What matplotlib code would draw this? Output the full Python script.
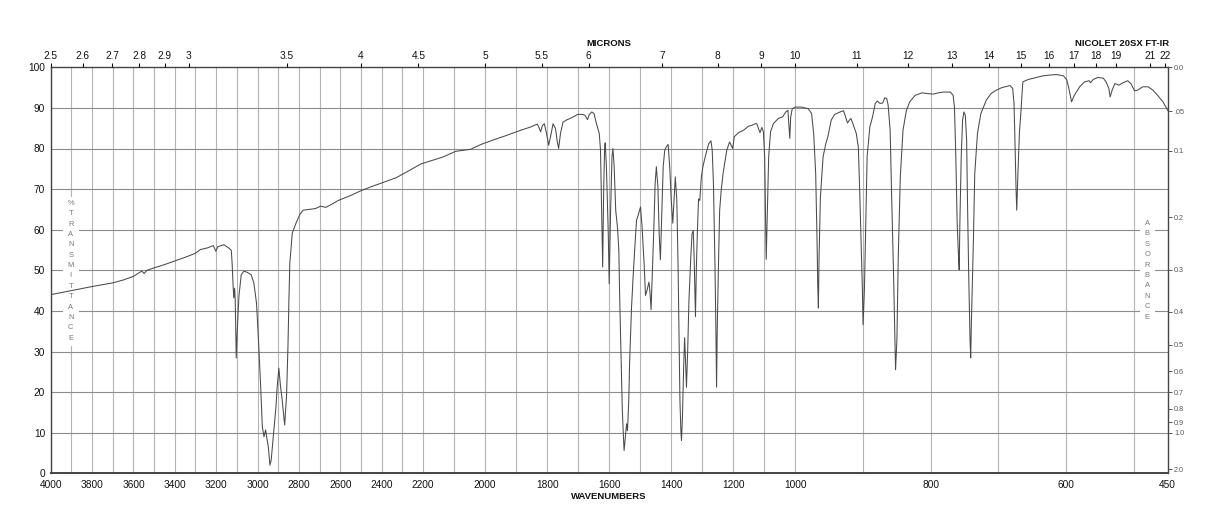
import numpy as np
import matplotlib
matplotlib.use("Agg")
import matplotlib.pyplot as plt
from matplotlib.patches import Rectangle

plt.rcParams['font.family'] = ['Liberation Sans', 'DejaVu Sans']

# ---------------- data ----------------
wavenumber = [
    4000, 3900, 3800, 3700, 3650, 3600, 3560, 3548, 3535, 3500, 3450, 3400, 3350, 3300,
    3277, 3243, 3214, 3202, 3192, 3163, 3139, 3127, 3123, 3118, 3115, 3111, 3108, 3103,
    3098, 3090, 3079, 3066, 3050, 3031, 3018, 3005, 2994, 2985, 2977, 2969, 2961, 2956,
    2948, 2940, 2934, 2924, 2911, 2905, 2897, 2889, 2881, 2869, 2860, 2853, 2848, 2844,
    2832, 2815, 2795, 2780, 2750, 2720, 2695, 2670, 2640, 2610, 2560, 2500, 2450, 2400,
    2330, 2280, 2210, 2136, 2095, 2047, 2013, 1970, 1928, 1885, 1853, 1832, 1827, 1821,
    1815, 1809, 1802, 1795, 1787, 1781, 1773, 1768, 1763, 1757, 1749, 1738, 1726, 1713,
    1702, 1688, 1678, 1670, 1664, 1656, 1649, 1641, 1632, 1628, 1625, 1621, 1618, 1615,
    1613, 1609, 1603, 1600, 1596, 1591, 1588, 1584, 1579, 1573, 1569, 1566, 1561, 1558,
    1555, 1552, 1547, 1544, 1541, 1537, 1534, 1528, 1523, 1518, 1512, 1507, 1499, 1494,
    1487, 1483, 1478, 1472, 1469, 1465, 1461, 1456, 1452, 1448, 1443, 1439, 1435, 1431,
    1426, 1421, 1416, 1410, 1405, 1400, 1395, 1391, 1387, 1382, 1378, 1375, 1372, 1369,
    1367, 1364, 1360, 1357, 1354, 1351, 1347, 1343, 1337, 1333, 1329, 1326, 1322, 1319,
    1316, 1312, 1308, 1303, 1298, 1292, 1285, 1279, 1272, 1268, 1264, 1259, 1256, 1254,
    1252, 1248, 1244, 1239, 1233, 1228, 1221, 1212, 1202, 1197, 1183, 1167, 1151, 1140,
    1130, 1124, 1119, 1114, 1108, 1103, 1099, 1096, 1094, 1090, 1086, 1080, 1071, 1055,
    1041, 1031, 1024, 1021, 1018, 1015, 1010, 1000, 991, 981, 976, 973, 970, 968,
    967, 966, 965, 963, 959, 955, 952, 947, 942, 934, 929, 927, 923, 921,
    918, 915, 910, 907, 905, 903, 901, 900, 898, 896, 894, 890, 886, 882,
    879, 875, 871, 868, 865, 863, 860, 858, 855, 853, 852, 850, 848, 845,
    841, 836, 831, 823, 813, 803, 796, 789, 781, 771, 767, 765, 763, 761,
    759, 758, 757, 755, 753, 751, 749, 747, 746, 744, 742, 741, 740, 737,
    735, 731, 726, 718, 711, 704, 695, 683, 679, 677, 676, 674, 673, 671,
    669, 667, 664, 656, 644, 634, 624, 614, 604, 599, 596, 592, 588, 580,
    573, 566, 564, 560, 553, 545, 541, 537, 535, 532, 528, 522, 516, 509,
    504, 499, 494, 487, 479, 472, 465, 457, 450,
]
transmittance = [
    44.0, 45.0, 46.0, 46.9, 47.6, 48.5, 49.8, 49.2, 50.0, 50.6, 51.4, 52.3, 53.2, 54.2,
    55.1, 55.5, 56.1, 54.7, 55.8, 56.3, 55.5, 54.9, 51.8, 46.0, 43.2, 45.6, 42.8, 28.4,
    35.3, 43.6, 48.9, 49.8, 49.5, 48.9, 46.9, 41.9, 31.2, 21.4, 11.5, 9.0, 10.7, 9.0,
    6.5, 2.0, 3.3, 9.0, 16.4, 21.4, 25.9, 21.4, 18.1, 11.9, 18.9, 31.2, 43.6, 51.8,
    59.2, 61.5, 63.8, 64.8, 65.0, 65.2, 65.8, 65.5, 66.3, 67.2, 68.2, 69.6, 70.6, 71.5,
    72.8, 74.2, 76.2, 77.9, 79.3, 79.8, 81.0, 82.2, 83.3, 84.5, 85.3, 86.0, 85.3, 84.1,
    85.7, 86.1, 83.7, 80.8, 83.7, 86.1, 84.9, 82.0, 80.0, 83.7, 86.5, 87.0, 87.4, 87.9,
    88.4, 88.4, 88.2, 87.1, 88.4, 89.0, 88.6, 86.1, 83.7, 79.6, 67.2, 50.8, 68.9, 79.6,
    81.4, 75.5, 59.0, 46.7, 63.1, 77.9, 80.0, 75.5, 64.8, 60.3, 54.9, 42.6, 26.2, 16.3,
    10.5, 5.6, 9.7, 12.2, 10.5, 17.9, 27.8, 40.9, 48.3, 54.9, 62.3, 63.5, 65.6, 60.7,
    50.8, 43.8, 45.1, 47.1, 45.1, 40.3, 49.2, 60.7, 71.3, 75.5, 70.5, 59.0, 52.6, 63.1,
    75.5, 79.6, 80.4, 81.0, 75.5, 67.2, 61.6, 67.2, 73.0, 67.2, 50.8, 34.4, 17.9, 10.5,
    8.1, 13.8, 26.2, 33.4, 27.8, 21.2, 30.3, 42.6, 53.3, 59.0, 59.8, 52.4, 38.6, 50.8,
    59.0, 67.6, 67.2, 73.0, 75.5, 77.5, 79.6, 81.2, 81.9, 79.6, 71.3, 50.8, 34.4, 21.2,
    34.4, 50.8, 64.8, 69.7, 73.8, 76.3, 79.6, 81.6, 80.0, 82.9, 83.9, 84.5, 85.5, 85.7,
    86.1, 86.1, 84.9, 83.9, 85.2, 84.1, 78.0, 63.2, 52.7, 65.7, 78.0, 84.1, 86.1, 87.4,
    87.8, 89.0, 89.4, 86.1, 82.5, 87.8, 89.8, 90.2, 90.2, 89.8, 88.6, 83.7, 73.9, 57.5,
    46.8, 40.7, 53.4, 68.1, 78.0, 81.2, 82.9, 87.0, 88.4, 89.0, 89.3, 88.4, 86.3, 86.8,
    87.4, 86.1, 83.7, 80.4, 69.8, 57.5, 45.2, 36.6, 45.2, 61.6, 78.0, 85.3, 87.8, 91.1,
    91.7, 91.1, 91.2, 92.5, 92.3, 90.7, 84.5, 69.8, 49.3, 32.9, 25.5, 32.9, 53.4, 73.0,
    84.5, 89.4, 91.5, 93.1, 93.7, 93.5, 93.4, 93.7, 93.9, 93.9, 93.1, 90.2, 78.0, 61.6,
    53.4, 50.1, 61.6, 78.0, 87.0, 89.0, 88.2, 82.0, 69.8, 49.3, 32.9, 28.4, 37.0, 57.5,
    73.9, 83.7, 88.6, 91.9, 93.5, 94.3, 95.0, 95.5, 94.8, 91.1, 84.5, 70.0, 64.8, 75.0,
    84.0, 88.6, 96.4, 97.0, 97.5, 97.9, 98.1, 98.2, 97.9, 96.9, 94.8, 91.5, 93.1, 95.2,
    96.4, 96.7, 96.2, 97.0, 97.5, 97.3, 96.4, 94.8, 92.7, 94.4, 96.0, 95.6, 96.2, 96.7,
    95.9, 94.2, 94.4, 95.2, 95.2, 94.4, 93.1, 91.5, 89.4,
]

wavenumber_ticks = [4000, 3800, 3600, 3400, 3200, 3000, 2800, 2600, 2400, 2200, 2000,
                    1800, 1600, 1400, 1200, 1000, 800, 600, 450]
wavenumber_labels = [str(v) for v in wavenumber_ticks]
micron_ticks = [2.5, 2.6, 2.7, 2.8, 2.9, 3, 3.5, 4, 4.5, 5, 5.5, 6, 7, 8, 9, 10, 11,
                12, 13, 14, 15, 16, 17, 18, 19, 21, 22]
micron_labels = ['2.5', '2.6', '2.7', '2.8', '2.9', '3', '3.5', '4', '4.5', '5', '5.5',
                 '6', '7', '8', '9', '10', '11', '12', '13', '14', '15', '16', '17',
                 '18', '19', '21', '22']
absorbance_ticks = [0.0, 0.05, 0.1, 0.2, 0.3, 0.4, 0.5, 0.6, 0.7, 0.8, 0.9, 1.0, 2.0]
absorbance_labels = ['0.0', '.05', '0.1', '0.2', '0.3', '0.4', '0.5', '0.6', '0.7',
                     '0.8', '0.9', '1.0', '2.0']
transmittance_ticks = list(range(0, 101, 10))
grid_wavenumbers = list(range(500, 4001, 100))

# ---------------- piecewise wavenumber scale (thirds: 450-1000, 1000-2200, 2200-4000) ----
BW = np.array([450.0, 1000.0, 2200.0, 4000.0])
BU = np.array([0.0, 1.0, 2.0, 3.0])


def fwd(w):
    w = np.asarray(w, dtype=float)
    out = np.interp(w, BW, BU)
    out = np.where(w < 450, (w - 450) / 550.0, out)
    out = np.where(w > 4000, 3.0 + (w - 4000) / 1800.0, out)
    return out


def inv(u):
    u = np.asarray(u, dtype=float)
    out = np.interp(u, BU, BW)
    out = np.where(u < 0, 450 + u * 550.0, out)
    out = np.where(u > 3, 4000 + (u - 3) * 1800.0, out)
    return out


W, H = 1218, 528
fig = plt.figure(figsize=(W / 100, H / 100), dpi=100)
L, R, T, B = 50.7, 1167.7, 67.3, 473.3
ax = fig.add_axes([L / W, 1 - B / H, (R - L) / W, (B - T) / H])

ax.set_xscale('function', functions=(fwd, inv))
ax.set_xlim(4000, 450)
ax.set_ylim(0, 100)

# grid
for gw in grid_wavenumbers:
    ax.axvline(gw, color='#b4b4b4', lw=0.8, zorder=0.5)
for gt in transmittance_ticks[1:-1]:
    ax.axhline(gt, color='#8c8c8c', lw=0.8, zorder=0.5)

ax.plot(wavenumber, transmittance, color='#4a4a4a', lw=0.75, zorder=3)

ax.set_xticks(wavenumber_ticks)
ax.set_xticklabels(wavenumber_labels)
ax.set_yticks(transmittance_ticks)
ax.set_yticklabels([str(t) for t in transmittance_ticks])
ax.minorticks_off()
ax.tick_params(axis='x', length=0, pad=5, labelsize=7.3, colors='#111')
ax.tick_params(axis='y', length=0, pad=4, labelsize=7.3, colors='#111')
for s in ax.spines.values():
    s.set_color('#444')
    s.set_linewidth(1.0)
ax.spines['bottom'].set_linewidth(1.4)

# top micron axis
axt = ax.twiny()
axt.set_xscale('function', functions=(fwd, inv))
axt.set_xlim(4000, 450)
axt.set_xticks([10000.0 / m for m in micron_ticks])
axt.set_xticklabels(micron_labels)
axt.minorticks_off()
axt.tick_params(axis='x', direction='out', length=3, width=0.8, pad=1.5,
                labelsize=7.3, colors='#111')
for s in axt.spines.values():
    s.set_visible(False)

# right absorbance axis
axr = ax.twinx()
axr.set_ylim(0, 100)
axr.set_yticks([100 * 10 ** (-a) for a in absorbance_ticks])
axr.set_yticklabels(absorbance_labels)
axr.minorticks_off()
axr.tick_params(axis='y', direction='out', length=3, width=0.7, pad=1.5,
                labelsize=5.2, colors='#555', labelcolor='#555')
for s in axr.spines.values():
    s.set_visible(False)


def to_ax(xp, yp):
    return (xp - L) / (R - L), (B - yp) / (B - T)


# vertical letter labels with white backing
def letter_column(text, xc, y0, step, box):
    x0, y_top, x1, y_bot = box
    ax0, ay0 = to_ax(x0, y_bot)
    ax1, ay1 = to_ax(x1, y_top)
    ax.add_patch(Rectangle((ax0, ay0), ax1 - ax0, ay1 - ay0, transform=ax.transAxes,
                           facecolor='white', edgecolor='none', zorder=1))
    for i, ch in enumerate(text):
        xa, ya = to_ax(xc, y0 + i * step)
        ax.text(xa, ya, ch, transform=ax.transAxes, ha='center', va='center',
                fontsize=5.4, color='#777', zorder=2)


letter_column('%TRANSMITTANCE', 70.7, 203.3, 10.38, (63, 197, 79, 346))
letter_column('ABSORBANCE', 1147.3, 223.3, 10.44, (1140, 217, 1155, 324))

fig.text(609 / W, 1 - 44 / H, 'MICRONS', ha='center', va='center',
         fontsize=6.8, fontweight='bold', color='#111')
fig.text(1169 / W, 1 - 44 / H, 'NICOLET 20SX FT-IR', ha='right', va='center',
         fontsize=6.8, fontweight='bold', color='#111')
fig.text(609 / W, 1 - 496.3 / H, 'WAVENUMBERS', ha='center', va='center',
         fontsize=6.8, fontweight='bold', color='#111')

fig.savefig('out.png', dpi=100, facecolor='white')
